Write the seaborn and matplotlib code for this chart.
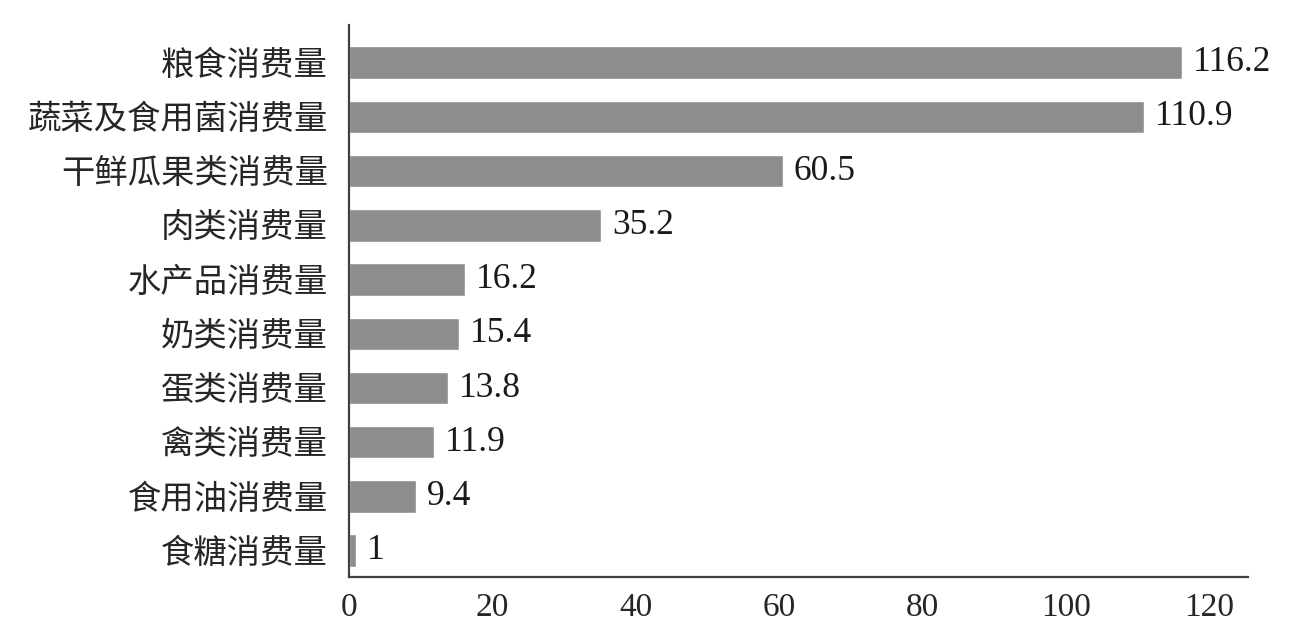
import matplotlib
matplotlib.use("Agg")
import matplotlib.pyplot as plt
import seaborn as sns
import pandas as pd

categories = ["粮食消费量", "蔬菜及食用菌消费量", "干鲜瓜果类消费量", "肉类消费量", "水产品消费量",
              "奶类消费量", "蛋类消费量", "禽类消费量", "食用油消费量", "食糖消费量"]
values = [116.2, 110.9, 60.5, 35.2, 16.2, 15.4, 13.8, 11.9, 9.4, 1]
xticks = [0, 20, 40, 60, 80, 100, 120]

sns.set_style("white")
plt.rcParams['font.family'] = ['Liberation Serif', 'Noto Sans CJK SC', 'DejaVu Sans']

df = pd.DataFrame({"category": categories, "value": values})

fig = plt.figure(figsize=(13.11, 6.35), dpi=100)
ax = fig.add_axes([0.266, 0.091, 0.686, 0.870])

sns.barplot(data=df, x="value", y="category", color="#8e8c8d", saturation=1,
            width=0.6, ax=ax)

ax.set_xlim(0, 125.4)
ax.set_ylim(9.49, -0.7)
ax.set_xticks(xticks)
ax.set_xticklabels([str(t) for t in xticks], fontsize=24)
ax.tick_params(axis="y", labelsize=24, length=0, pad=15)
ax.tick_params(axis="x", length=0, pad=11)
ax.set_xlabel("")
ax.set_ylabel("")

for s in ["top", "right"]:
    ax.spines[s].set_visible(False)
for s in ["left", "bottom"]:
    ax.spines[s].set_color("#404040")
    ax.spines[s].set_linewidth(1.6)

labels = [f"{v:g}" for v in values]
ax.bar_label(ax.containers[0], labels=labels, padding=8, fontsize=25.5, color="#1a1a1a")

fig.savefig("out.png", dpi=100)
